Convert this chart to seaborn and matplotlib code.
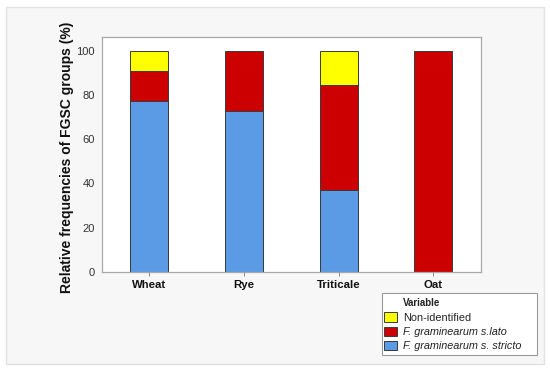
import pandas as pd
import seaborn as sns
import matplotlib
matplotlib.use("Agg")
from matplotlib import pyplot as plt
from matplotlib.patches import Patch, Rectangle

# data (%)
crops = ["Wheat", "Rye", "Triticale", "Oat"]
stricto = [77.3, 72.9, 36.9, 0.0]
lato = [13.7, 27.1, 47.6, 100.0]
non_ident = [9.0, 0.0, 15.5, 0.0]

groups = ["Non-identified", "F. graminearum s.lato", "F. graminearum s. stricto"]
colors = {"Non-identified": "#ffff00",
          "F. graminearum s.lato": "#cc0000",
          "F. graminearum s. stricto": "#5b9ae4"}

df = pd.DataFrame({"Crop": crops, "stricto": stricto, "lato": lato, "non": non_ident})
df["top_stricto"] = df["stricto"]
df["top_lato"] = df["stricto"] + df["lato"]
df["top_non"] = df["top_lato"] + df["non"]

sns.set_theme(style="white")
plt.rcParams["font.family"] = ["Liberation Sans", "DejaVu Sans"]

W, H = 550, 371
fig = plt.figure(figsize=(5.5, 3.71), dpi=100)
fig.patch.set_facecolor("white")
# light grey panel behind everything
fig.patches.append(Rectangle((6 / W, 1 - 364 / H), 538 / W, 357 / H,
                             transform=fig.transFigure, facecolor="#f7f7f7",
                             edgecolor="#e2e2e2", linewidth=1.0, zorder=-5))
# legend box
fig.patches.append(Rectangle((381.7 / W, 1 - 355 / H), 155 / W, 62 / H,
                             transform=fig.transFigure, facecolor="white",
                             edgecolor="#9a9a9a", linewidth=0.8, zorder=-4))

ax = fig.add_axes([102 / W, 1 - 272 / H, 378.7 / W, 234.7 / H])
ax.set_zorder(2)
ax.set_facecolor("white")

# stacked bars: draw cumulative tops, tallest first, skip empty segments
layers = [("top_non", "non", "Non-identified"),
          ("top_lato", "lato", "F. graminearum s.lato"),
          ("top_stricto", "stricto", "F. graminearum s. stricto")]
for top_col, seg_col, name in layers:
    sub = df[df[seg_col] > 0]
    sns.barplot(data=sub, x="Crop", y=top_col, order=crops, color=colors[name],
                saturation=1, width=0.4, edgecolor="#3a3a3a", linewidth=0.7, ax=ax)

ax.set_xlim(-0.5, 3.5)
ax.set_ylim(0, 106)
ax.set_yticks([0, 20, 40, 60, 80, 100])
ax.set_xlabel("")
ax.set_ylabel("")
for s in ax.spines.values():
    s.set_color("#a8a8a8")
    s.set_linewidth(0.9)
ax.tick_params(axis="both", which="both", direction="out", length=3, width=0.7,
               color="#888888", labelcolor="#333333")
ax.tick_params(axis="y", labelsize=8, pad=2)
ax.tick_params(axis="x", labelsize=8.2, pad=3, bottom=True)
for t in ax.get_xticklabels():
    t.set_fontweight("bold")
    t.set_color("#111111")

fig.text(67 / W, 1 - 157 / H, "Relative frequencies of FGSC groups (%)",
         rotation=90, ha="center", va="center", fontsize=10, fontweight="bold",
         color="#111111")

handles = [Patch(facecolor="none", edgecolor="none")]
labels = ["Variable"]
for name in groups:
    handles.append(Patch(facecolor=colors[name], edgecolor="#3a3a3a", linewidth=0.7))
    labels.append(name)
leg = fig.legend(handles, labels, loc="upper left",
                 bbox_to_anchor=(384 / W, 1 - 298 / H), fontsize=7.8,
                 frameon=False, handlelength=1.2, handleheight=0.95,
                 handletextpad=0.55, labelspacing=0.36, borderpad=0,
                 borderaxespad=0)
texts = leg.get_texts()
texts[0].set_fontweight("bold")
texts[0].set_fontsize(7)
for t in texts[2:]:
    t.set_fontstyle("italic")
for t in texts:
    t.set_color("#222222")

fig.savefig("out.png", dpi=100, facecolor=fig.get_facecolor())
